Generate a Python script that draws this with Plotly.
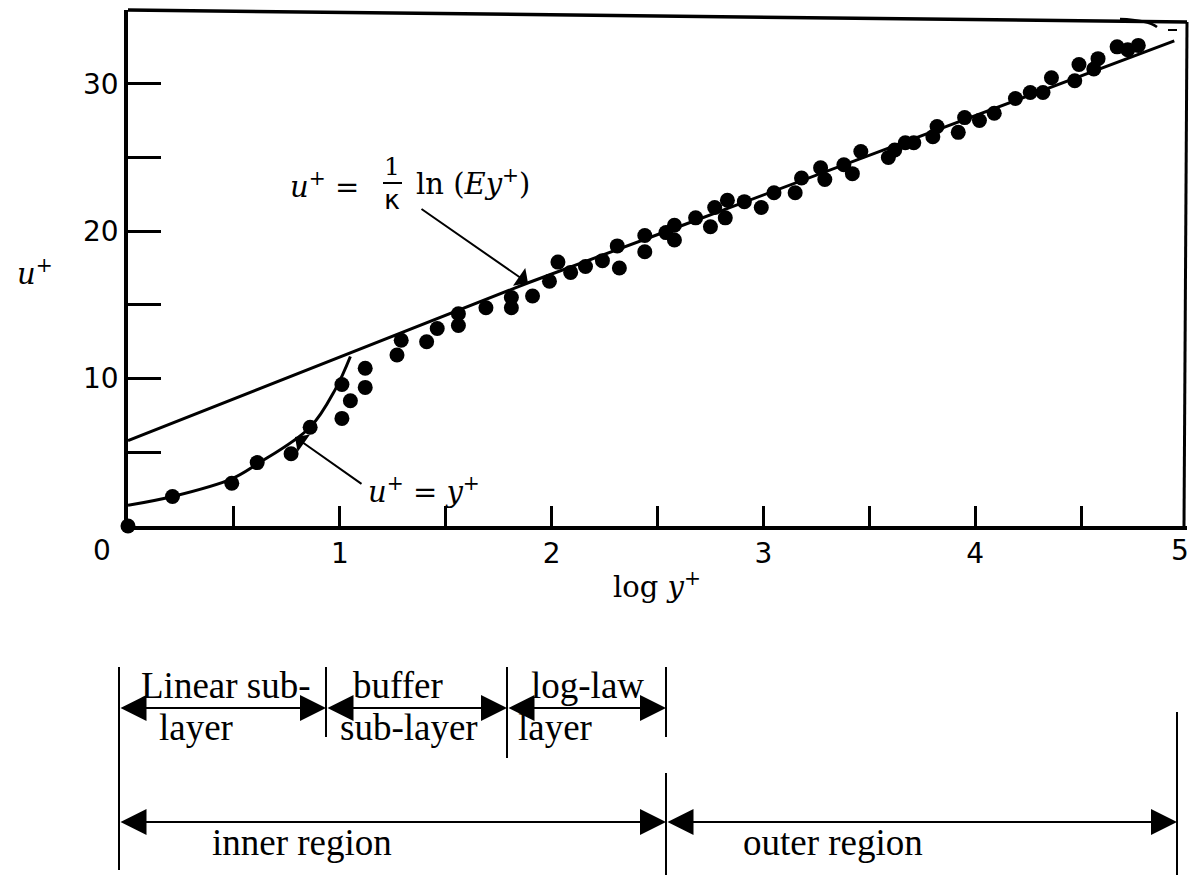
import plotly.graph_objects as go

# ---------------- data ----------------
log_y_plus = [0, 0.21, 0.49, 0.61, 0.77, 0.86, 1.01, 1.05, 1.01, 1.12, 1.12, 1.27, 1.29, 1.41,
              1.46, 1.56, 1.56, 1.69, 1.81, 1.81, 1.91, 1.99, 2.03, 2.09, 2.16, 2.24, 2.32, 2.31,
              2.44, 2.44, 2.54, 2.58, 2.58, 2.68, 2.75, 2.77, 2.82, 2.83, 2.91, 2.99, 3.05, 3.15,
              3.18, 3.27, 3.29, 3.38, 3.42, 3.46, 3.59, 3.62, 3.67, 3.71, 3.80, 3.82, 3.92, 3.95,
              4.02, 4.09, 4.19, 4.26, 4.32, 4.36, 4.47, 4.49, 4.56, 4.58, 4.67, 4.72, 4.77]
u_plus = [0, 2.0, 2.9, 4.3, 4.9, 6.7, 7.3, 8.5, 9.6, 9.4, 10.7, 11.6, 12.6, 12.5,
          13.4, 13.6, 14.4, 14.8, 14.8, 15.5, 15.6, 16.6, 17.9, 17.2, 17.6, 18.0, 17.5, 19.0,
          18.6, 19.7, 19.9, 20.4, 19.4, 20.9, 20.3, 21.6, 20.9, 22.1, 22.0, 21.6, 22.6, 22.6,
          23.6, 24.3, 23.5, 24.5, 23.9, 25.4, 25.0, 25.5, 26.0, 26.0, 26.4, 27.1, 26.7, 27.7,
          27.5, 28.0, 29.0, 29.4, 29.4, 30.4, 30.2, 31.3, 31.0, 31.7, 32.5, 32.3, 32.6]

loglaw_x = [0, 1.04, 1.89, 2.6, 4.94]
loglaw_u = [5.8, 11.7, 16.5, 20.3, 32.9]

linear_x = [0, 0.21, 0.49, 0.61, 0.86, 0.98, 1.05]
linear_u = [1.4, 2.0, 3.2, 4.2, 6.7, 9.3, 11.5]

x_tickvals = [0.5, 1, 1.5, 2, 2.5, 3, 3.5, 4, 4.5, 5]
x_ticktext = ["", "1", "", "2", "", "3", "", "4", "", ""]
y_tickvals = [5, 10, 15, 20, 25, 30]
y_ticktext = ["", "10", "", "20", "", "30"]

# ---------------- layout geometry (screen pixels; page body has an 8px margin) ----------------
OFF = 8
W, H = 1197 - OFF, 883 - 2 * OFF
PL, PR, PT, PB = 128, 1187, 10, 526


def xp(px):
    return (px - PL) / (PR - PL)


def yp(py):
    return (PB - py) / (PB - PT)


fig = go.Figure()
fig.add_trace(go.Scatter(x=loglaw_x, y=loglaw_u, mode="lines",
                         line=dict(color="black", width=3), showlegend=False))
fig.add_trace(go.Scatter(x=linear_x, y=linear_u, mode="lines",
                         line=dict(color="black", width=3, shape="spline"), showlegend=False))
fig.add_trace(go.Scatter(x=log_y_plus, y=u_plus, mode="markers", cliponaxis=False,
                         marker=dict(color="black", size=15), showlegend=False))

tick_font = dict(family="DejaVu Sans", size=28, color="black")
fig.update_xaxes(range=[0, 5], showline=True, linecolor="black", linewidth=3.5,
                 ticks="inside", ticklen=20, tickwidth=2.5, tickcolor="black",
                 tickvals=x_tickvals, ticktext=x_ticktext, tickfont=tick_font,
                 showgrid=False, zeroline=False, mirror=False)
fig.update_yaxes(range=[0, 35], showline=True, linecolor="black", linewidth=3.5,
                 ticks="inside", ticklen=33, tickwidth=2.5, tickcolor="black",
                 tickvals=y_tickvals, ticktext=y_ticktext, tickfont=tick_font,
                 showgrid=False, zeroline=False, mirror=False)

shapes = []
# right and (slightly tilted) top frame lines
shapes.append(dict(type="line", xref="paper", yref="paper", x0=xp(1187), y0=yp(22),
                   x1=xp(1184), y1=yp(526), line=dict(color="black", width=3)))
shapes.append(dict(type="line", xref="paper", yref="paper", x0=xp(128), y0=yp(10),
                   x1=xp(1187), y1=yp(22), line=dict(color="black", width=3.5)))
shapes.append(dict(type="path", xref="paper", yref="paper",
                   path=f"M {xp(1120)},{yp(19)} Q {xp(1148)},{yp(20)} {xp(1157)},{yp(27)}",
                   line=dict(color="black", width=2.5)))
shapes.append(dict(type="line", xref="paper", yref="paper", x0=xp(1168), y0=yp(30),
                   x1=xp(1177), y1=yp(30), line=dict(color="black", width=2)))
# fraction bar of 1/kappa
shapes.append(dict(type="line", xref="paper", yref="paper", x0=xp(383), y0=yp(183),
                   x1=xp(402), y1=yp(183), line=dict(color="black", width=2)))

# bottom diagram vertical lines
verticals = [(119, 667, 870), (326, 667, 737), (507, 667, 758), (666, 667, 737),
             (666, 773, 883), (1177, 712, 883)]
for vx, vy0, vy1 in verticals:
    shapes.append(dict(type="line", xref="paper", yref="paper", x0=xp(vx), y0=yp(vy0),
                       x1=xp(vx), y1=yp(vy1), line=dict(color="black", width=2)))

annotations = []
serif = "DejaVu Serif"


def text(px, py, s, size, family, anchor="center"):
    annotations.append(dict(x=xp(px), y=yp(py), xref="paper", yref="paper", text=s,
                            showarrow=False, xanchor=anchor, yanchor="middle",
                            font=dict(family=family, size=size, color="black")))


def arrow(hx, hy, tx, ty, both=False, head=2, size=1.4, width=2):
    annotations.append(dict(x=xp(hx), y=yp(hy), xref="paper", yref="paper", text="",
                            showarrow=True, ax=tx - hx, ay=ty - hy, axref="pixel", ayref="pixel",
                            arrowhead=head, startarrowhead=head, arrowsize=size,
                            startarrowsize=size, arrowwidth=width, arrowcolor="black",
                            arrowside="end+start" if both else "end", standoff=0,
                            startstandoff=0))


# axis titles and tick numbers at the corners
text(102, 550, "0", 28, "DejaVu Sans")
text(1180, 550, "5", 28, "DejaVu Sans")
text(15, 272, "<i>u</i><sup>+</sup>", 29, serif, anchor="left")
text(657, 585, "log <i>y</i><sup>+</sup>", 29, serif)

# equations
text(288, 185, "<i>u</i><sup>+</sup> =", 29, serif, anchor="left")
text(392, 166, "1", 25, serif)
text(392, 199, "κ", 27, "DejaVu Sans")
text(414, 182, "ln (<i>Ey</i><sup>+</sup>)", 29, serif, anchor="left")
arrow(528, 283, 420, 208, head=1, size=1.8)
text(366, 490, "<i>u</i><sup>+</sup> = <i>y</i><sup>+</sup>", 29, serif, anchor="left")
arrow(295, 437, 363, 485, head=1, size=1.8)

# bottom diagram arrows and labels
for a, b in [(119, 326), (326, 507), (507, 666)]:
    arrow(b, 708, a, 708, both=True, head=2, size=2.6)
for a, b in [(119, 666), (666, 1177)]:
    arrow(b, 822, a, 822, both=True, head=2, size=2.6)

tnr = "Liberation Serif"
text(226, 685, "Linear sub-", 37, tnr)
text(196, 727, "layer", 37, tnr)
text(398, 685, "buffer", 37, tnr)
text(409, 727, "sub-layer", 37, tnr)
text(587, 685, "log-law", 37, tnr)
text(555, 727, "layer", 37, tnr)
text(302, 842, "inner region", 37, tnr)
text(833, 842, "outer region", 37, tnr)

fig.update_layout(width=W, height=H,
                  margin=dict(l=PL - OFF, r=W - (PR - OFF), t=PT - OFF, b=H - (PB - OFF)),
                  paper_bgcolor="white", plot_bgcolor="white", shapes=shapes,
                  annotations=annotations, showlegend=False)

fig.write_html("out.html")
